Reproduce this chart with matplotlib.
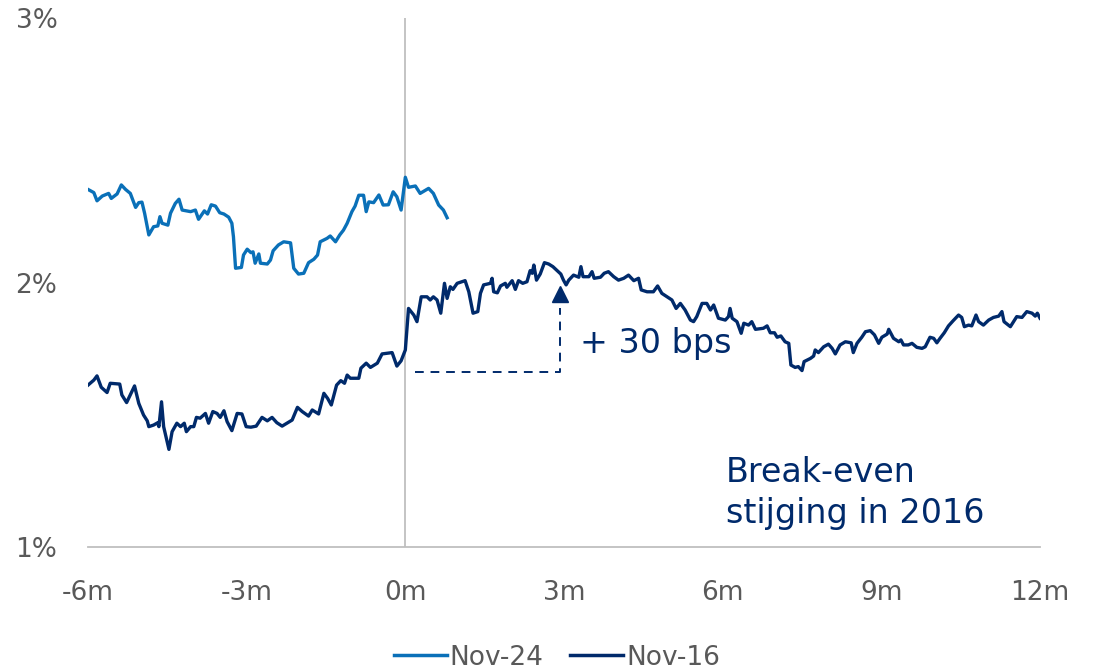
import matplotlib
matplotlib.use("Agg")
import matplotlib.pyplot as plt
import numpy as np

plt.rcParams['font.family'] = ['DejaVu Sans']

# months relative to the event, break-even inflation in %
nov24_x = [-6.00, -5.89, -5.83, -5.73, -5.61, -5.56, -5.45, -5.37, -5.29, -5.20,
           -5.10, -5.04, -4.98, -4.93, -4.85, -4.76, -4.68, -4.64, -4.60, -4.49,
           -4.44, -4.35, -4.28, -4.22, -4.06, -3.97, -3.91, -3.80, -3.74, -3.67,
           -3.59, -3.51, -3.43, -3.34, -3.28, -3.25, -3.21, -3.10, -3.06, -2.99,
           -2.92, -2.88, -2.84, -2.77, -2.74, -2.61, -2.55, -2.50, -2.40, -2.30,
           -2.17, -2.11, -2.02, -1.92, -1.83, -1.73, -1.66, -1.61, -1.48, -1.42,
           -1.32, -1.24, -1.17, -1.10, -1.01, -0.95, -0.88, -0.79, -0.74, -0.69,
           -0.60, -0.50, -0.42, -0.32, -0.23, -0.16, -0.08, 0.00, 0.06, 0.19,
           0.28, 0.44, 0.53, 0.63, 0.72, 0.79]
nov24_y = [2.352, 2.340, 2.309, 2.327, 2.337, 2.318, 2.335, 2.369, 2.352, 2.337,
           2.284, 2.302, 2.304, 2.262, 2.180, 2.211, 2.214, 2.249, 2.224, 2.217,
           2.262, 2.299, 2.315, 2.274, 2.268, 2.274, 2.239, 2.271, 2.259, 2.294,
           2.289, 2.264, 2.259, 2.247, 2.224, 2.173, 2.054, 2.057, 2.104, 2.126,
           2.113, 2.116, 2.073, 2.108, 2.073, 2.070, 2.085, 2.120, 2.142, 2.154,
           2.150, 2.054, 2.032, 2.035, 2.075, 2.088, 2.104, 2.154, 2.167, 2.176,
           2.154, 2.180, 2.198, 2.224, 2.268, 2.289, 2.330, 2.330, 2.268, 2.305,
           2.302, 2.331, 2.293, 2.294, 2.343, 2.324, 2.274, 2.398, 2.360, 2.365,
           2.337, 2.356, 2.337, 2.293, 2.274, 2.245]

nov16_x = [-6.00, -5.89, -5.83, -5.75, -5.64, -5.58, -5.40, -5.36, -5.27, -5.20,
           -5.12, -5.04, -4.95, -4.88, -4.85, -4.76, -4.68, -4.66, -4.61, -4.57,
           -4.47, -4.41, -4.32, -4.25, -4.18, -4.14, -4.06, -4.00, -3.95, -3.88,
           -3.78, -3.72, -3.64, -3.56, -3.50, -3.43, -3.37, -3.28, -3.18, -3.09,
           -3.01, -2.92, -2.82, -2.71, -2.61, -2.52, -2.43, -2.33, -2.24, -2.14,
           -2.04, -1.95, -1.83, -1.76, -1.64, -1.54, -1.47, -1.40, -1.30, -1.22,
           -1.15, -1.10, -1.04, -0.88, -0.84, -0.74, -0.66, -0.53, -0.44, -0.25,
           -0.16, -0.08, 0.00, 0.06, 0.16, 0.22, 0.30, 0.41, 0.47, 0.53,
           0.60, 0.67, 0.74, 0.79, 0.85, 0.90, 0.98, 1.13, 1.20, 1.28,
           1.37, 1.42, 1.48, 1.61, 1.64, 1.67, 1.74, 1.80, 1.89, 1.92,
           2.02, 2.08, 2.14, 2.22, 2.30, 2.36, 2.40, 2.43, 2.48, 2.55,
           2.63, 2.71, 2.79, 2.87, 2.94, 2.99, 3.04, 3.09, 3.18, 3.28,
           3.32, 3.36, 3.47, 3.53, 3.57, 3.69, 3.76, 3.84, 3.94, 4.03,
           4.13, 4.22, 4.32, 4.41, 4.46, 4.57, 4.69, 4.77, 4.85, 4.95,
           5.04, 5.12, 5.20, 5.29, 5.39, 5.45, 5.51, 5.61, 5.70, 5.77,
           5.83, 5.92, 6.05, 6.11, 6.14, 6.18, 6.27, 6.35, 6.40, 6.49,
           6.55, 6.62, 6.77, 6.84, 6.90, 6.98, 7.03, 7.10, 7.18, 7.25,
           7.29, 7.37, 7.43, 7.50, 7.54, 7.66, 7.72, 7.75, 7.81, 7.91,
           8.00, 8.07, 8.13, 8.22, 8.32, 8.43, 8.47, 8.54, 8.63, 8.70,
           8.79, 8.87, 8.95, 9.01, 9.11, 9.14, 9.23, 9.33, 9.37, 9.42,
           9.51, 9.58, 9.67, 9.77, 9.83, 9.92, 9.99, 10.05, 10.11, 10.19,
           10.27, 10.36, 10.46, 10.52, 10.57, 10.65, 10.71, 10.79, 10.84, 10.93,
           11.03, 11.12, 11.22, 11.28, 11.32, 11.44, 11.50, 11.56, 11.66, 11.75,
           11.85, 11.91, 11.95, 12.00]
nov16_y = [1.612, 1.631, 1.647, 1.604, 1.584, 1.619, 1.616, 1.575, 1.546, 1.575,
           1.609, 1.543, 1.499, 1.477, 1.455, 1.461, 1.470, 1.455, 1.549, 1.455,
           1.369, 1.436, 1.468, 1.455, 1.468, 1.436, 1.455, 1.455, 1.490, 1.487,
           1.505, 1.468, 1.512, 1.505, 1.490, 1.515, 1.474, 1.440, 1.505, 1.503,
           1.455, 1.453, 1.457, 1.490, 1.477, 1.490, 1.470, 1.457, 1.468, 1.480,
           1.528, 1.512, 1.495, 1.518, 1.503, 1.581, 1.562, 1.537, 1.612, 1.629,
           1.619, 1.650, 1.638, 1.638, 1.676, 1.695, 1.679, 1.695, 1.730, 1.735,
           1.684, 1.704, 1.745, 1.902, 1.877, 1.852, 1.946, 1.946, 1.934, 1.946,
           1.934, 1.884, 1.997, 1.940, 1.984, 1.974, 1.997, 2.007, 1.965, 1.884,
           1.890, 1.959, 1.991, 1.997, 2.016, 1.965, 1.961, 1.987, 1.997, 1.982,
           2.007, 1.974, 2.007, 1.997, 2.003, 2.045, 2.035, 2.066, 2.009, 2.032,
           2.075, 2.070, 2.060, 2.045, 2.032, 2.009, 1.991, 2.009, 2.028, 2.020,
           2.060, 2.022, 2.022, 2.041, 2.016, 2.020, 2.035, 2.041, 2.022, 2.009,
           2.016, 2.028, 2.007, 2.016, 1.972, 1.965, 1.965, 1.987, 1.959, 1.946,
           1.934, 1.902, 1.921, 1.896, 1.858, 1.852, 1.871, 1.921, 1.921, 1.896,
           1.915, 1.865, 1.858, 1.871, 1.902, 1.865, 1.852, 1.808, 1.846, 1.839,
           1.852, 1.823, 1.827, 1.836, 1.810, 1.810, 1.793, 1.798, 1.776, 1.770,
           1.688, 1.679, 1.682, 1.667, 1.701, 1.713, 1.722, 1.745, 1.735, 1.757,
           1.767, 1.751, 1.730, 1.764, 1.776, 1.772, 1.735, 1.770, 1.793, 1.814,
           1.818, 1.802, 1.770, 1.793, 1.805, 1.823, 1.789, 1.776, 1.783, 1.764,
           1.764, 1.770, 1.755, 1.751, 1.757, 1.793, 1.789, 1.772, 1.789, 1.810,
           1.836, 1.856, 1.877, 1.868, 1.833, 1.839, 1.836, 1.877, 1.852, 1.839,
           1.858, 1.868, 1.873, 1.890, 1.852, 1.833, 1.852, 1.871, 1.868, 1.890,
           1.884, 1.873, 1.884, 1.865]

x_ticks = [-6, -3, 0, 3, 6, 9, 12]
x_labels = ['-6m', '-3m', '0m', '3m', '6m', '9m', '12m']
y_ticks = [1, 2, 3]
y_labels = ['1%', '2%', '3%']

# the +30 bps move: level just before the event and peak a few months later
jump_start = 1.662
jump_end = 1.955
jump_x0, jump_x1 = 0.19, 2.93

light_blue = '#0A70B8'
navy = '#002A6B'
grey_txt = '#595959'
grey_line = '#BFBFBF'

fig = plt.figure(figsize=(10.96, 6.69), dpi=100)
ax = fig.add_axes([0.0803, 0.1824, 0.8686, 0.7906])

ax.plot(nov24_x, nov24_y, color=light_blue, lw=2.4, label='Nov-24', solid_joinstyle='round')
ax.plot(nov16_x, nov16_y, color=navy, lw=2.4, label='Nov-16', solid_joinstyle='round')

ax.axvline(0, color=grey_line, lw=1.3, zorder=0)

ax.plot([jump_x0, jump_x1, jump_x1], [jump_start, jump_start, jump_end - 0.05],
        color=navy, lw=1.4, dashes=(4.5, 3.5))
ax.plot([jump_x1], [jump_end], marker='^', color=navy, markersize=11, lw=0)

ax.text(3.31, 1.733, '+ 30 bps', color=navy, fontsize=24, va='baseline', ha='left')
ax.text(6.06, 1.246, 'Break-even', color=navy, fontsize=24, va='baseline', ha='left')
ax.text(6.06, 1.091, 'stijging in 2016', color=navy, fontsize=24, va='baseline', ha='left')

ax.set_xlim(-6, 12)
ax.set_ylim(1, 3)
ax.set_xticks(x_ticks)
ax.set_xticklabels(x_labels)
ax.set_yticks(y_ticks)
ax.set_yticklabels(y_labels)
ax.tick_params(axis='both', length=0, labelsize=19, colors=grey_txt)
ax.tick_params(axis='x', pad=24)
ax.tick_params(axis='y', pad=22)

for side in ['top', 'right', 'left']:
    ax.spines[side].set_visible(False)
ax.spines['bottom'].set_color(grey_line)
ax.spines['bottom'].set_linewidth(1.3)

leg = fig.legend(loc='center', bbox_to_anchor=(0.508, 0.017), ncol=2, frameon=False,
                 fontsize=19, handlelength=2.0, handletextpad=0.12, columnspacing=1.0)
for t in leg.get_texts():
    t.set_color(grey_txt)
for h in leg.get_lines():
    h.set_linewidth(2.5)

fig.savefig('out.png', dpi=100)
